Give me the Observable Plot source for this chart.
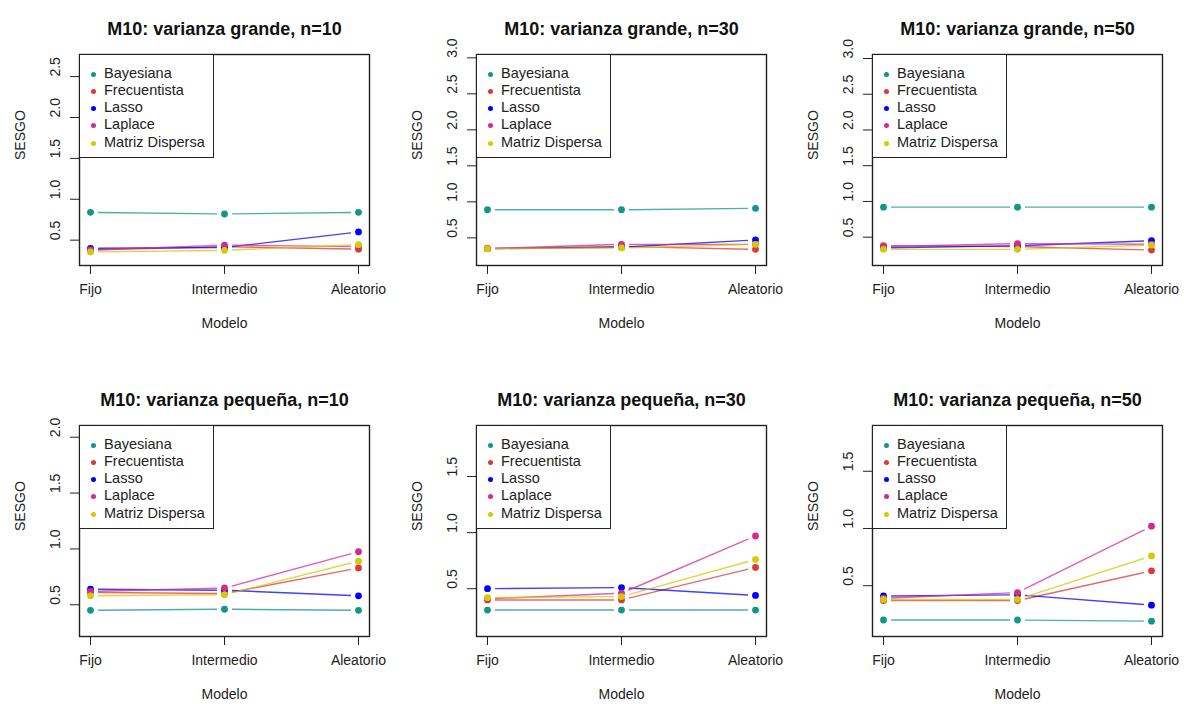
<!DOCTYPE html>
<html><head><meta charset="utf-8">
<script src="https://cdn.jsdelivr.net/npm/d3@7"></script>
<script src="https://cdn.jsdelivr.net/npm/@observablehq/plot@0.6"></script>
<style>
body{margin:0;background:#fff;font-family:"Liberation Sans",Arial,Helvetica,sans-serif;}
#root{position:relative;width:1184px;height:704px;overflow:hidden;background:#fff;}
.panel{position:absolute;}
.legend{position:absolute;border:1.3px solid #222;background:#fff;box-sizing:border-box;width:135px;height:104px;}
.legend .row{position:absolute;left:0;height:17px;line-height:17px;font-size:14.5px;color:#222;white-space:nowrap;}
.legend .dot{position:absolute;width:5px;height:5px;border-radius:50%;}
.legend .lab{position:absolute;left:24px;top:-1px;}
</style></head>
<body><div id="root"></div>
<script>
const models = ["Fijo", "Intermedio", "Aleatorio"];
const methods = ["Bayesiana", "Frecuentista", "Lasso", "Laplace", "Matriz Dispersa"];
const colors = ["#11968b", "#d93a3a", "#0000ff", "#d62a93", "#d4ca00"];

const titles = [
  "M10: varianza grande, n=10", "M10: varianza grande, n=30", "M10: varianza grande, n=50",
  "M10: varianza pequeña, n=10", "M10: varianza pequeña, n=30", "M10: varianza pequeña, n=50"
];
// rows: Bayesiana, Frecuentista, Lasso, Laplace, Matriz Dispersa; cols: Fijo, Intermedio, Aleatorio
const grande_n10 = [[0.84,0.82,0.84],[0.38,0.42,0.39],[0.40,0.41,0.60],[0.38,0.44,0.42],[0.355,0.375,0.445]];
const grande_n30 = [[0.89,0.89,0.91],[0.35,0.38,0.34],[0.35,0.37,0.47],[0.35,0.41,0.41],[0.35,0.36,0.41]];
const grande_n50 = [[0.92,0.92,0.92],[0.38,0.37,0.32],[0.35,0.38,0.45],[0.37,0.41,0.40],[0.33,0.33,0.39]];
const pequena_n10 = [[0.45,0.46,0.45],[0.61,0.60,0.83],[0.64,0.63,0.58],[0.62,0.65,0.975],[0.58,0.59,0.89]];
const pequena_n30 = [[0.31,0.31,0.31],[0.40,0.40,0.69],[0.50,0.51,0.44],[0.41,0.46,0.97],[0.42,0.43,0.76]];
const pequena_n50 = [[0.20,0.20,0.19],[0.37,0.37,0.63],[0.41,0.42,0.33],[0.39,0.44,1.02],[0.38,0.38,0.76]];

const yTicks_g10 = [0.5, 1.0, 1.5, 2.0, 2.5];
const yTicks_g = [0.5, 1.0, 1.5, 2.0, 2.5, 3.0];
const yTicks_p10 = [0.5, 1.0, 1.5, 2.0];
const yTicks_p = [0.5, 1.0, 1.5];
const yDomains = [[0.19, 2.77], [0.116, 3.046], [0.104, 3.056], [0.216, 2.105], [0.074, 1.955], [0.056, 1.9]];

const panels = [
  {title: titles[0], values: grande_n10, ticks: yTicks_g10, domain: yDomains[0]},
  {title: titles[1], values: grande_n30, ticks: yTicks_g, domain: yDomains[1]},
  {title: titles[2], values: grande_n50, ticks: yTicks_g, domain: yDomains[2]},
  {title: titles[3], values: pequena_n10, ticks: yTicks_p10, domain: yDomains[3]},
  {title: titles[4], values: pequena_n30, ticks: yTicks_p, domain: yDomains[4]},
  {title: titles[5], values: pequena_n50, ticks: yTicks_p, domain: yDomains[5]}
];

const colLeft = [0, 397, 793];
const rowTop = [0, 371];
const ML = 79, MT = 54;
const font = '"Liberation Sans", Arial, Helvetica, sans-serif';

const root = document.getElementById("root");

panels.forEach((p, k) => {
  const rows = [], segs = [];
  methods.forEach((m, i) => {
    p.values[i].forEach((v, j) => rows.push({method: m, model: models[j], value: v}));
    for (let j = 0; j < models.length - 1; j++)
      segs.push({method: m, m1: models[j], m2: models[j + 1], v1: p.values[i][j], v2: p.values[i][j + 1]});
  });
  const chart = Plot.plot({
    width: 385, height: 333,
    marginLeft: ML, marginRight: 16, marginTop: MT, marginBottom: 68,
    style: {fontFamily: font, fontSize: "14px", color: "#222", background: "white", overflow: "visible"},
    x: {type: "point", domain: models, padding: 0.08, label: null},
    y: {domain: p.domain, label: null},
    color: {domain: methods, range: colors},
    marks: [
      Plot.axisX(models, {tickSize: 9, tickPadding: 10, fontSize: 14, label: null, stroke: "#222"}),
      Plot.axisY(p.ticks, {tickSize: 9, tickFormat: () => "", label: null, stroke: "#222"}),
      Plot.text(p.ticks, {y: d => d, text: d => d.toFixed(1), frameAnchor: "left", rotate: -90, dx: -24, fontSize: 14, fill: "#222"}),
      Plot.text(["SESGO"], {text: d => d, frameAnchor: "left", rotate: -90, dx: -59, fontSize: 14, fill: "#222"}),
      Plot.text(["Modelo"], {text: d => d, frameAnchor: "bottom", dy: 62, fontSize: 14, fill: "#222"}),
      Plot.text([p.title], {text: d => d, frameAnchor: "top", dy: -32, fontSize: 18, fontWeight: "bold", fill: "#111"}),
      Plot.arrow(segs, {x1: "m1", y1: "v1", x2: "m2", y2: "v2", stroke: "method", headLength: 0, inset: 7.5,
        strokeWidth: 1.4, strokeOpacity: 0.75, strokeLinecap: "butt"}),
      Plot.dot(rows, {x: "model", y: "value", fill: "method", r: 3.4}),
      Plot.frame({stroke: "#222", strokeWidth: 1.4})
    ]
  });
  const c = k % 3, r = Math.floor(k / 3);
  const wrap = document.createElement("div");
  wrap.className = "panel";
  wrap.style.left = colLeft[c] + "px";
  wrap.style.top = rowTop[r] + "px";
  wrap.appendChild(chart);
  root.appendChild(wrap);

  const leg = document.createElement("div");
  leg.className = "legend";
  leg.style.left = (colLeft[c] + ML) + "px";
  leg.style.top = (rowTop[r] + MT) + "px";
  methods.forEach((m, i) => {
    const row = document.createElement("div");
    row.className = "row";
    row.style.top = (19.3 + i * 17.2 - 8.5) + "px";
    row.style.width = "130px";
    const dot = document.createElement("span");
    dot.className = "dot";
    dot.style.background = colors[i];
    dot.style.left = "10.8px";
    dot.style.top = "6px";
    const lab = document.createElement("span");
    lab.className = "lab";
    lab.textContent = m;
    row.appendChild(dot);
    row.appendChild(lab);
    leg.appendChild(row);
  });
  root.appendChild(leg);
});
</script>
</body></html>
